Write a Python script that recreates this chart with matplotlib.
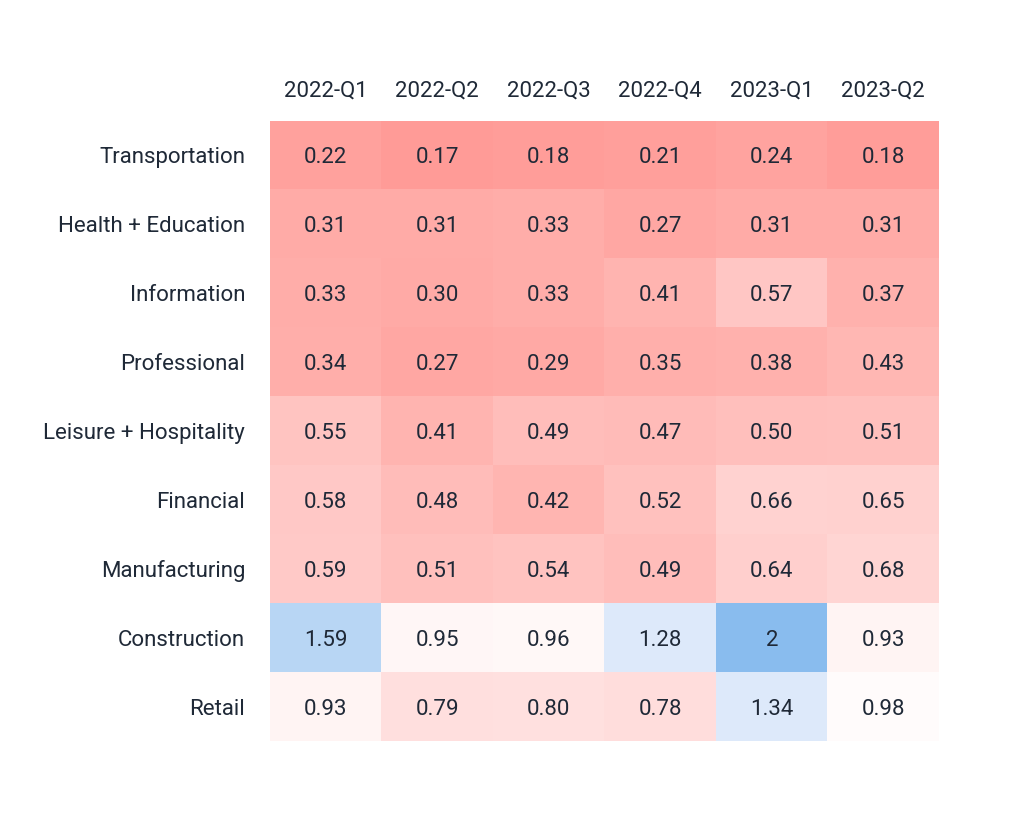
import numpy as np
import matplotlib
matplotlib.use('Agg')
import matplotlib.pyplot as plt
from matplotlib.colors import LinearSegmentedColormap, Normalize

plt.rcParams['font.family'] = ['Roboto', 'DejaVu Sans']

# Heatmap data
quarters = ['2022-Q1', '2022-Q2', '2022-Q3', '2022-Q4', '2023-Q1', '2023-Q2']
sectors = ['Transportation', 'Health + Education', 'Information', 'Professional',
           'Leisure + Hospitality', 'Financial', 'Manufacturing', 'Construction', 'Retail']

transportation = [0.22, 0.17, 0.18, 0.21, 0.24, 0.18]
health_education = [0.31, 0.31, 0.33, 0.27, 0.31, 0.31]
information = [0.33, 0.30, 0.33, 0.41, 0.57, 0.37]
professional = [0.34, 0.27, 0.29, 0.35, 0.38, 0.43]
leisure_hospitality = [0.55, 0.41, 0.49, 0.47, 0.50, 0.51]
financial = [0.58, 0.48, 0.42, 0.52, 0.66, 0.65]
manufacturing = [0.59, 0.51, 0.54, 0.49, 0.64, 0.68]
construction = [1.59, 0.95, 0.96, 1.28, 2, 0.93]
retail = [0.93, 0.79, 0.80, 0.78, 1.34, 0.98]

values = np.array([transportation, health_education, information, professional,
                   leisure_hospitality, financial, manufacturing, construction, retail])

# diverging scale: red below 1, white at 1, blue above (positions on 0..2 / 2)
anchors = [(0.0, '#FF8E89'), (0.085, '#FF9C98'), (0.155, '#FFACA8'), (0.205, '#FFB5B1'),
           (0.275, '#FFC5C2'), (0.33, '#FFD3D1'), (0.395, '#FFDFDE'),
           (0.465, '#FFF4F3'), (0.5, '#FFFFFF'), (0.625, '#DEEAFB'), (0.675, '#DDE9FA'),
           (0.795, '#B9D7F5'), (1.0, '#89BCEE')]
cmap = LinearSegmentedColormap.from_list('div', anchors)
norm = Normalize(vmin=0, vmax=2)

text_color = '#1F2937'

fig = plt.figure(figsize=(10.24, 8.17), dpi=100)
ax = fig.add_axes([0.2637, 0.093, 0.6533, 0.759])

ax.imshow(values, cmap=cmap, norm=norm, aspect='auto', interpolation='nearest')

for i in range(len(sectors)):
    for j in range(len(quarters)):
        v = values[i, j]
        label = str(int(v)) if v == int(v) else f'{v:.2f}'
        ax.text(j, i, label, ha='center', va='center_baseline', fontsize=16, color=text_color)

ax.set_xticks(range(len(quarters)))
ax.set_xticklabels(quarters, fontsize=16, color=text_color)
ax.set_yticks(range(len(sectors)))
ax.set_yticklabels(sectors, fontsize=16, color=text_color)
ax.xaxis.tick_top()
ax.tick_params(axis='x', length=0, pad=14)
ax.tick_params(axis='y', length=0, pad=18)
for s in ax.spines.values():
    s.set_visible(False)

fig.savefig('out.png', dpi=100, facecolor='white')
